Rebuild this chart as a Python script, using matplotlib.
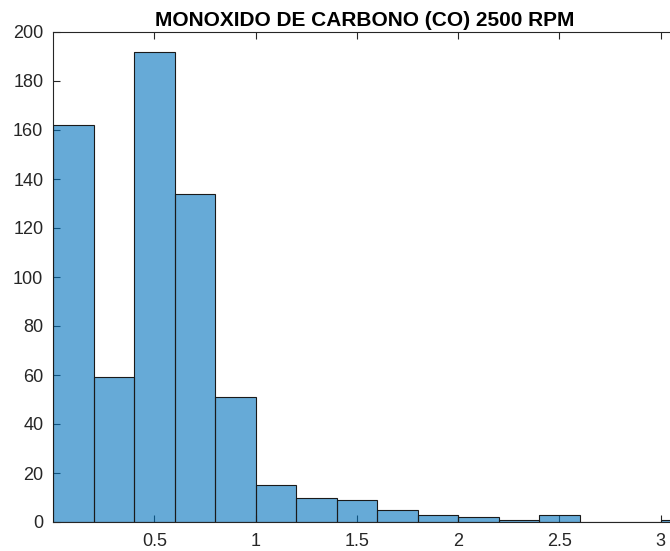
import numpy as np
import matplotlib.pyplot as plt

plt.rcParams['font.family'] = ['Liberation Sans', 'DejaVu Sans']

# histogram bin edges (width 0.2) and counts per bin
bin_edges = [0.0, 0.2, 0.4, 0.6, 0.8, 1.0, 1.2, 1.4, 1.6, 1.8,
             2.0, 2.2, 2.4, 2.6, 2.8, 3.0, 3.2]
counts = [162, 59, 192, 134, 51, 15, 10, 9, 5, 3, 2, 1, 3, 0, 0, 1]

xticks = [0.5, 1, 1.5, 2, 2.5, 3]
yticks = list(range(0, 201, 20))

fig = plt.figure(figsize=(6.7, 5.51), dpi=100)
# axes run past the right edge of the figure
ax = fig.add_axes([53 / 670, 29 / 551, 624 / 670, 490 / 551])

left = np.array(bin_edges[:-1])
widths = np.diff(bin_edges)
ax.bar(left, counts, width=widths, align='edge',
       color=(0.0, 0.447, 0.741), alpha=0.6, edgecolor='none', zorder=2)
ax.bar(left, counts, width=widths, align='edge',
       color='none', edgecolor='#1a1a1a', linewidth=0.8, zorder=3)

ax.set_xlim(0, 3.08)
ax.set_ylim(0, 200)
ax.set_xticks(xticks)
ax.set_xticklabels(['0.5', '1', '1.5', '2', '2.5', '3'])
ax.set_yticks(yticks)

ax.tick_params(direction='in', length=5, width=0.8, colors='#262626',
               labelsize=13, top=True, right=True)
ax.tick_params(axis='x', pad=8)
ax.tick_params(axis='y', pad=7)
for s in ax.spines.values():
    s.set_color('#262626')
    s.set_linewidth(0.8)

ax.set_title('MONOXIDO DE CARBONO (CO) 2500 RPM', fontsize=15,
             fontweight='bold', pad=4)

fig.savefig('out.png', dpi=100)
